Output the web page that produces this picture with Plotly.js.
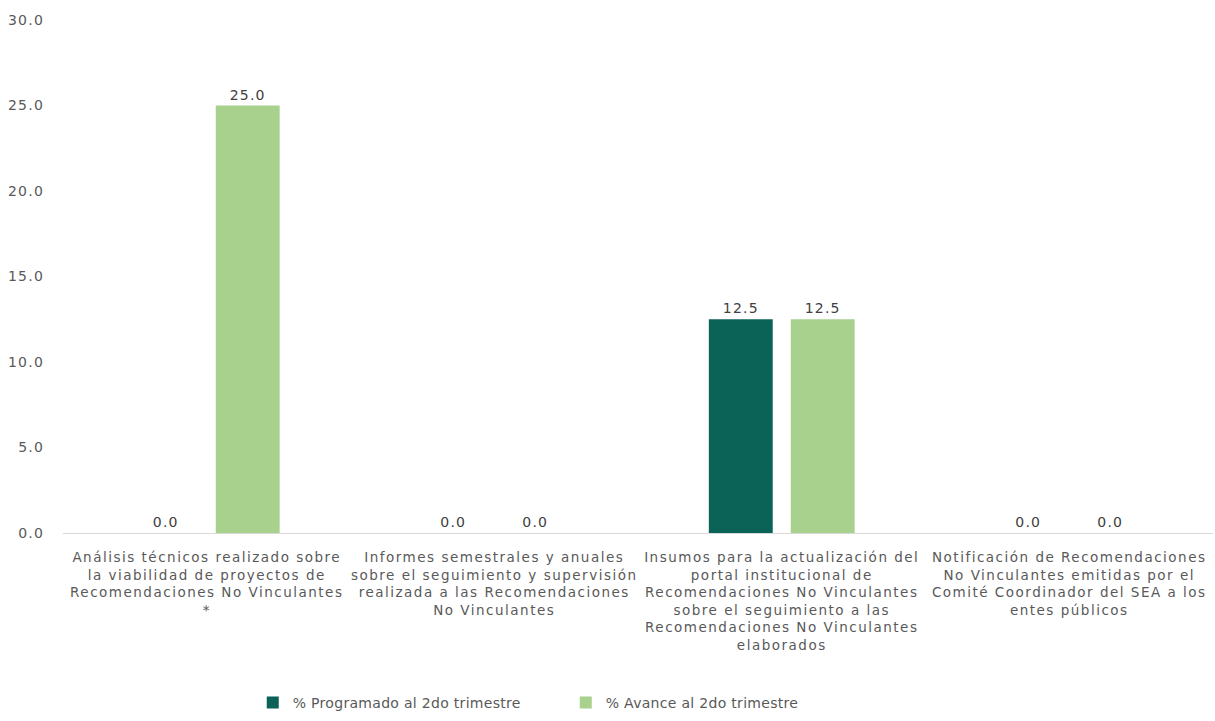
<!DOCTYPE html>
<html>
<head>
<meta charset="utf-8">
<script src="https://cdn.plot.ly/plotly-3.0.1.min.js"></script>
<style>
html,body{margin:0;padding:0;background:#fff;}
#chart{width:1215px;height:721px;}
#chart .xtick text{letter-spacing:1.5px;}
#chart .ytick text{letter-spacing:1.2px;}
#chart .bartext{letter-spacing:1.2px;}
#chart .legendtext{letter-spacing:0.3px;}
</style>
</head>
<body>
<div id="chart"></div>
<script>
const categories = [
  "Análisis técnicos realizado sobre<br>la viabilidad de proyectos de<br>Recomendaciones No Vinculantes<br>*",
  "Informes semestrales y anuales<br>sobre el seguimiento y supervisión<br>realizada a las Recomendaciones<br>No Vinculantes",
  "Insumos para la actualización del<br>portal institucional de<br>Recomendaciones No Vinculantes<br>sobre el seguimiento a las<br>Recomendaciones No Vinculantes<br>elaborados",
  "Notificación de Recomendaciones<br>No Vinculantes emitidas por el<br>Comité Coordinador del SEA a los<br>entes públicos"
];
const programado = [0.0, 0.0, 12.5, 0.0];
const avance = [25.0, 0.0, 12.5, 0.0];
const seriesNames = ["% Programado al 2do trimestre", "% Avance al 2do trimestre"];
const yTicks = [0, 5, 10, 15, 20, 25, 30];

const FONT = "DejaVu Sans, Open Sans, sans-serif";
const textColor = "#595959";

const traces = [
  {
    type: "bar", name: seriesNames[0], x: categories, y: programado,
    marker: {color: "#0b6358"},
    texttemplate: "%{y:.1f}", textposition: "outside", cliponaxis: false,
    textfont: {family: FONT, size: 14, color: "#404040"},
    hoverinfo: "y"
  },
  {
    type: "bar", name: seriesNames[1], x: categories, y: avance,
    marker: {color: "#a8d18d"},
    texttemplate: "%{y:.1f}", textposition: "outside", cliponaxis: false,
    textfont: {family: FONT, size: 14, color: "#404040"},
    hoverinfo: "y"
  }
];

const layout = {
  width: 1215, height: 721,
  margin: {l: 63, r: 2, t: 20, b: 188},
  paper_bgcolor: "#ffffff", plot_bgcolor: "#ffffff",
  font: {family: FONT, color: textColor, size: 13},
  barmode: "group",
  bargap: 0.43,
  bargroupgap: 0.22,
  showlegend: true,
  legend: {
    orientation: "h", x: 0.165, xanchor: "left", y: -0.331, yanchor: "middle",
    font: {family: FONT, size: 14, color: textColor},
    itemwidth: 30, traceorder: "normal", entrywidth: 268
  },
  xaxis: {
    type: "category", tickangle: 0,
    showline: true, linecolor: "#d9d9d9", linewidth: 1,
    ticks: "", showgrid: false, ticklabelstandoff: 12,
    tickfont: {family: FONT, size: 13.5, color: textColor},
    automargin: false
  },
  yaxis: {
    range: [0, 30], tickvals: yTicks, tickformat: ".1f",
    showgrid: false, zeroline: false, showline: false,
    ticks: "", ticklabelstandoff: 18,
    tickfont: {family: FONT, size: 14, color: textColor},
    automargin: false
  }
};

Plotly.newPlot("chart", traces, layout, {displayModeBar: false, staticPlot: true});
</script>
</body>
</html>
